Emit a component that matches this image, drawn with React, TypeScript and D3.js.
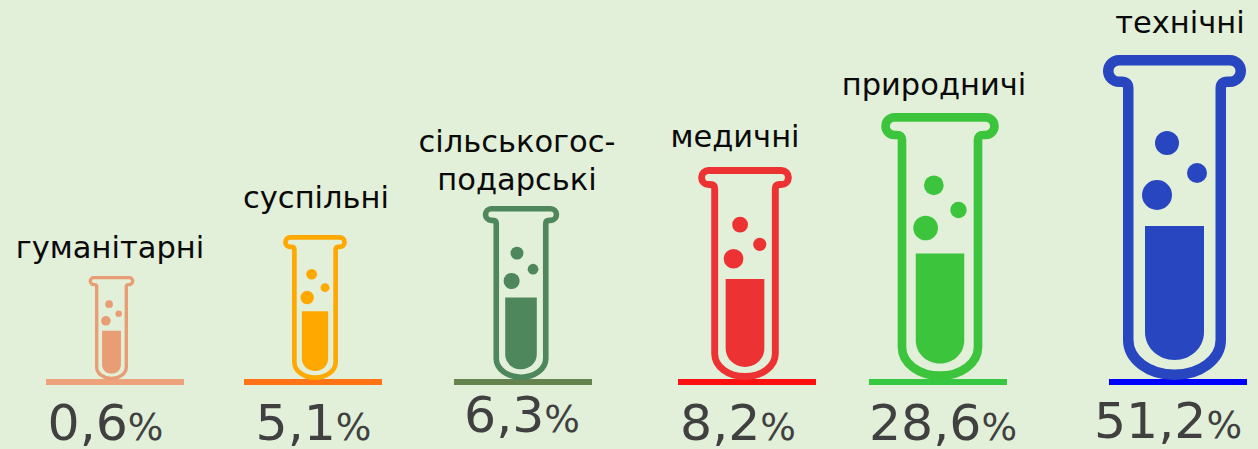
import * as d3 from 'd3'

const categories = ['гуманітарні', 'суспільні', 'сільськогос-\nподарські', 'медичні', 'природничі', 'технічні']
const values = [0.6, 5.1, 6.3, 8.2, 28.6, 51.2]
const tubeColors = ['#E99D74', '#FFA800', '#4E875C', '#EC3232', '#3CC53C', '#2746C0']
const baseColors = ['#EDA27B', '#FF7315', '#64834F', '#FF1010', '#36C840', '#0000FF']

const width = 1258
const height = 449
const baseY = 380

// these are hand fitted to the picture, the tubes are not to scale
const tubeHeight = d3.scaleLinear().domain(values).range([104, 145, 174, 213, 267, 325])
const tubeX = d3.scaleOrdinal<string, number>().domain(categories).range([111.5, 315, 521, 745, 940, 1174.5])
const baseX = d3.scaleOrdinal<string, number>().domain(categories).range([115, 313, 523, 747, 938, 1178])
const labelX = d3.scaleOrdinal<string, number>().domain(categories).range([110, 316, 517, 735, 934, 1180])
const labelY = d3.scaleOrdinal<string, number>().domain(categories).range([258, 208, 152, 147, 95, 33])
const valueX = d3.scaleOrdinal<string, number>().domain(categories).range([105.5, 313.5, 522, 738, 943, 1168])
const valueY = d3.scaleOrdinal<string, number>().domain(categories).range([440, 440, 432, 440, 440, 438])

// icon is drawn at the size of the biggest tube, then scaled down
const iconHeight = 325
const iconStroke = 10.5

function tubeOutline() {
  const p = d3.path()
  p.moveTo(-46.25, 285)
  p.lineTo(-46.25, 33)
  p.quadraticCurveTo(-46.25, 26.75, -53, 26.75)
  p.lineTo(-55.5, 26.75)
  p.arc(-55.5, 16, 10.75, Math.PI / 2, (Math.PI * 3) / 2)
  p.lineTo(55.5, 5.25)
  p.arc(55.5, 16, 10.75, -Math.PI / 2, Math.PI / 2)
  p.lineTo(53, 26.75)
  p.quadraticCurveTo(46.25, 26.75, 46.25, 33)
  p.lineTo(46.25, 285)
  // flatter than a half circle
  p.bezierCurveTo(46.25, 304.5, 25.5, 319.75, 0, 319.75)
  p.bezierCurveTo(-25.5, 319.75, -46.25, 304.5, -46.25, 285)
  return p.toString()
}

function tubeLiquid() {
  const p = d3.path()
  p.moveTo(-29.5, 171)
  p.lineTo(29.5, 171)
  p.lineTo(29.5, 277)
  p.bezierCurveTo(29.5, 293, 16, 305, 0, 305)
  p.bezierCurveTo(-16, 305, -29.5, 293, -29.5, 277)
  p.closePath()
  return p.toString()
}

const bubbles = [
  {cx: -7.5, cy: 88, r: 12},
  {cx: 22.5, cy: 118, r: 10},
  {cx: -17.5, cy: 140, r: 15}
]

const fmt = (v: number) => d3.format('.1f')(v).replace('.', ',')

export default function App() {
  return (
    <svg
      width={width}
      height={height}
      style={{position: 'absolute', left: 0, top: 0, background: '#E2EFD9'}}
      fontFamily="'DejaVu Sans', Verdana, sans-serif"
    >
      {categories.map((c, i) => {
        const h = tubeHeight(values[i])
        const k = h / iconHeight
        return (
          <g key={c}>
            <line
              x1={baseX(c) - 69}
              x2={baseX(c) + 69}
              y1={baseY + 2}
              y2={baseY + 2}
              stroke={baseColors[i]}
              strokeWidth={6}
            />
            <g transform={`translate(${tubeX(c)},${baseY - h}) scale(${k})`} fill={tubeColors[i]}>
              <path d={tubeOutline()} fill="none" stroke={tubeColors[i]} strokeWidth={iconStroke} />
              <path d={tubeLiquid()} />
              {bubbles.map((b, j) => (
                <circle key={j} cx={b.cx} cy={b.cy} r={b.r} />
              ))}
            </g>
            <text textAnchor="middle" fontSize={30.5} fill="#0A0A0A" x={labelX(c)} y={labelY(c)}>
              {c.split('\n').map((line, j) => (
                <tspan key={j} x={labelX(c)} dy={j ? 38 : 0}>
                  {line}
                </tspan>
              ))}
            </text>
            <text textAnchor="middle" fill="#404040" x={valueX(c)} y={valueY(c)} fontSize={50.5}>
              {fmt(values[i])}
              <tspan fontSize={37.5}>%</tspan>
            </text>
          </g>
        )
      })}
    </svg>
  )
}
